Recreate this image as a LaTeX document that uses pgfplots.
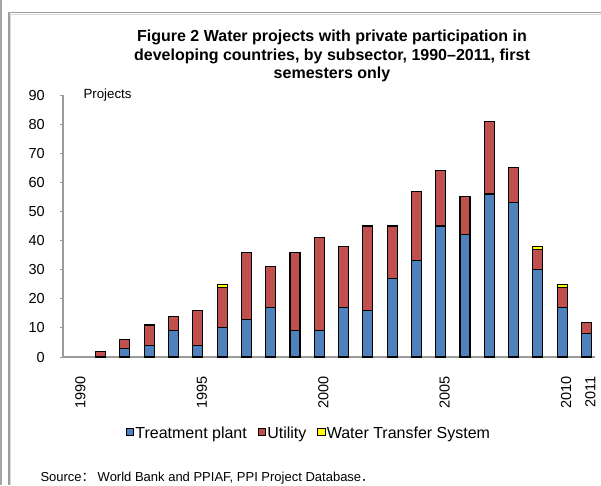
\documentclass[border=0pt]{standalone}
\usepackage{pgfplots}
\pgfplotsset{compat=1.18}
\usepackage{fontspec}
\setmainfont{Liberation Sans}
\newfontfamily\cjk{Noto Sans CJK SC}
\definecolor{tp}{HTML}{4F81BD}
\definecolor{ut}{HTML}{C0504D}
\definecolor{wt}{HTML}{FFFF00}
\definecolor{axg}{HTML}{9A9A9A}

\begin{document}
\begin{tikzpicture}[x=1pt,y=1pt]
\path[use as bounding box] (0,0) rectangle (601,-485);
\fill[gray!70] (0,0) rectangle (2,-485);
\draw[gray!75, line width=1.2pt] (9,-485) -- (9,-12.5) -- (601,-12.5);
\draw[gray!30, line width=0.8pt] (10.5,-485) -- (10.5,-14) -- (601,-14);
\node[font=\bfseries\fontsize{16}{18.5}\selectfont, align=center] at (332,-56)
  {Figure 2 Water projects with private participation in\\developing countries, by subsector, 1990--2011, first\\semesters only};
\begin{axis}[
  at={(63pt,-357pt)}, anchor=south west,
  scale only axis, width=532pt, height=262pt,
  ybar stacked, bar width=10pt,
  xmin=1989.45, xmax=2011.35, ymin=0, ymax=90,
  ytick={0,10,...,90},
  xtick={1990,1995,2000,2005,2010,2011},
  axis x line=bottom, axis y line=left,
  axis line style={-, axg, line width=1.2pt},
  tick align=outside,
  major tick length=3pt,
  y tick style={axg, line width=0.8pt},
  x tick style={draw=none},
  /pgf/number format/assume math mode=true,
  /pgf/number format/1000 sep={},
  tick label style={font=\fontsize{14.5}{16}\selectfont},
  xticklabel style={rotate=90, anchor=east, inner sep=0pt, yshift=-4pt},
  xticklabel shift=16pt,
  yticklabel style={anchor=east, inner sep=0pt, xshift=-15pt},
  legend style={at={(0.4615,-0.29)}, anchor=center, draw=none, fill=none,
    legend columns=-1, font=\fontsize{16}{18}\selectfont,
    nodes={inner xsep=1pt},
    /tikz/every even column/.append style={column sep=10pt}},
  legend cell align=left,
  legend image code/.code={\draw[#1, draw=black, line width=0.9pt] (0pt,-2.5pt) rectangle (7.5pt,5pt);},
  every axis plot/.append style={draw=black, line width=1.1pt},
]
\addplot[fill=tp] coordinates {(1991,0) (1992,3) (1993,4) (1994,9) (1995,4) (1996,10) (1997,13) (1998,17) (1999,9) (2000,9) (2001,17) (2002,16) (2003,27) (2004,33) (2005,45) (2006,42) (2007,56) (2008,53) (2009,30) (2010,17) (2011,8)};
\addplot[fill=ut] coordinates {(1991,2) (1992,3) (1993,7) (1994,5) (1995,12) (1996,14) (1997,23) (1998,14) (1999,27) (2000,32) (2001,21) (2002,29) (2003,18) (2004,24) (2005,19) (2006,13) (2007,25) (2008,12) (2009,7) (2010,7) (2011,4)};
\addplot[fill=wt] coordinates {(1991,0) (1992,0) (1993,0) (1994,0) (1995,0) (1996,1) (1997,0) (1998,0) (1999,0) (2000,0) (2001,0) (2002,0) (2003,0) (2004,0) (2005,0) (2006,0) (2007,0) (2008,0) (2009,1) (2010,1) (2011,0)};
\legend{Treatment plant, Utility, Water Transfer System}
\end{axis}
\node[anchor=west, font=\fontsize{13.3}{15}\selectfont] at (80,-95.5) {Projects};
\node[anchor=base west, font=\fontsize{13}{15}\selectfont] at (37,-481.5) {Source{\cjk ：}\hspace{3pt}World Bank and PPIAF, PPI Project Database{\cjk ．}};
\end{tikzpicture}
\end{document}
